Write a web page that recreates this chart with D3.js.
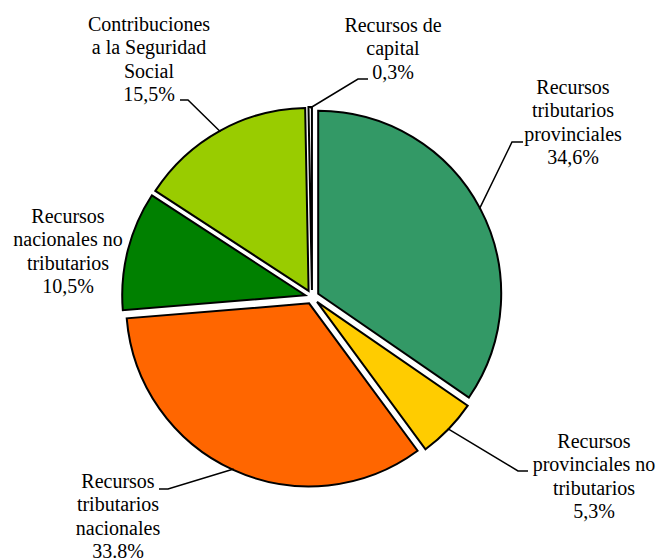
<!DOCTYPE html>
<html>
<head>
<meta charset="utf-8">
<script src="https://cdn.jsdelivr.net/npm/d3@7"></script>
</head>
<body style="margin:0">
<svg id="s" width="659" height="559"></svg>
<script>
// Data (clockwise from 12 o'clock)
const categories = [
  "Recursos tributarios provinciales",
  "Recursos provinciales no tributarios",
  "Recursos tributarios nacionales",
  "Recursos nacionales no tributarios",
  "Contribuciones a la Seguridad Social",
  "Recursos de capital"
];
const values = [34.6, 5.3, 33.8, 10.5, 15.5, 0.3];
const valueLabels = ["34,6%", "5,3%", "33.8%", "10,5%", "15,5%", "0,3%"];
const labelLines = [
  ["Recursos", "tributarios", "provinciales"],
  ["Recursos", "provinciales no", "tributarios"],
  ["Recursos", "tributarios", "nacionales"],
  ["Recursos", "nacionales no", "tributarios"],
  ["Contribuciones", "a la Seguridad", "Social"],
  ["Recursos de", "capital"]
];
const colors = ["#339966", "#FFCC00", "#FF6600", "#008000", "#99CC00", "#FFFFFF"];

// Layout
const cx = 312, cy = 297, R = 183, explode = 7, lineH = 23.3;
const labelPos = [ // center x, first baseline y
  [573, 94], [594, 448], [118, 488], [68, 223], [149, 31], [393, 32]
];
const leaders = [ // elbow, end  (null = no leader)
  [[512, 142], [523, 142]],
  [[518, 471], [528, 471]],
  [[168, 489], [159, 489]],
  null,
  [[188, 100], [180, 100]],
  [[358, 79], [368, 79]]
];

const svg = d3.select("#s");
const pie = d3.pie().sort(null).value(d => d)(values);
const arc = d3.arc().innerRadius(0).outerRadius(R);
const edgeArc = d3.arc().innerRadius(R - 1).outerRadius(R - 1);

function offset(d) {
  const a = (d.startAngle + d.endAngle) / 2;
  return [cx + explode * Math.sin(a), cy - explode * Math.cos(a)];
}

svg.selectAll("path.slice").data(pie).enter().append("path")
  .attr("class", "slice")
  .attr("transform", d => { const o = offset(d); return `translate(${o[0]},${o[1]})`; })
  .attr("d", arc)
  .attr("fill", (d, i) => colors[i])
  .attr("stroke", "#000")
  .attr("stroke-width", 2);

// leader lines
pie.forEach((d, i) => {
  const L = leaders[i];
  if (!L) return;
  const o = offset(d);
  const c = edgeArc.centroid(d);
  const pts = [[o[0] + c[0], o[1] + c[1]], L[0], L[1]];
  svg.append("path")
    .attr("d", d3.line()(pts))
    .attr("fill", "none")
    .attr("stroke", "#000")
    .attr("stroke-width", 1.5);
});

// labels: one text element per line, centred by measuring (start anchor)
pie.forEach((d, i) => {
  const lines = labelLines[i].concat([valueLabels[i]]);
  lines.forEach((ln, k) => {
    const t = svg.append("text")
      .attr("font-family", "Times New Roman")
      .attr("font-size", 20)
      .attr("x", labelPos[i][0])
      .attr("y", labelPos[i][1] + k * lineH)
      .text(ln);
    const w = t.node().getComputedTextLength();
    t.attr("x", labelPos[i][0] - w / 2);
  });
});
</script>
</body>
</html>
